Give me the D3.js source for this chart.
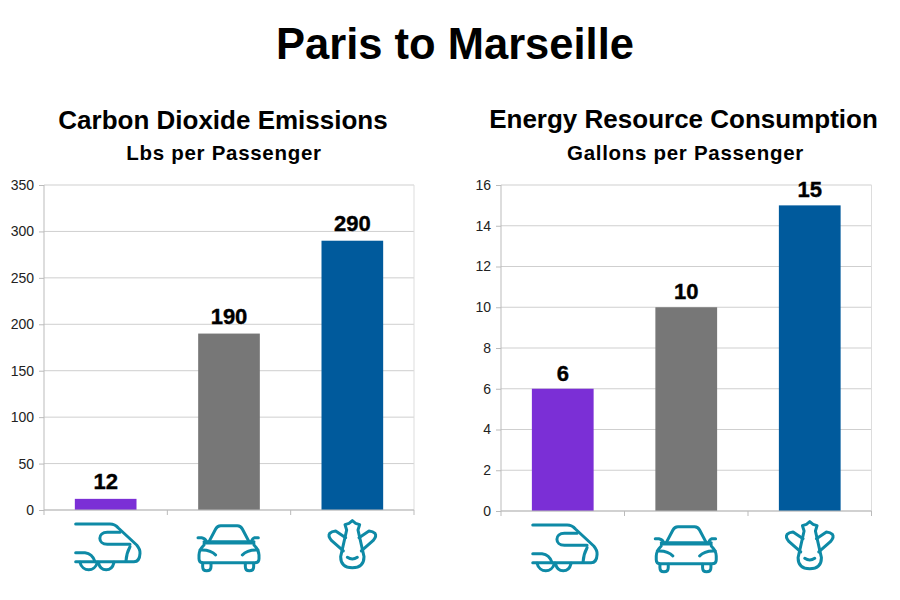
<!DOCTYPE html>
<html>
<head>
<meta charset="utf-8">
<script src="https://d3js.org/d3.v7.min.js"></script>
<style>
	html, body { margin: 0; background: #fff; }
	text { font-family: "Liberation Sans", Arial, sans-serif; fill: #000; }
	.tick text { font-size: 14px; fill: #222; }
</style>
</head>
<body>
<svg id="chart" width="900" height="600"></svg>
<script>
var modes = ['train', 'car', 'plane'];
var barColors = ['#7b2fd6', '#777777', '#005a9c'];

var co2Values = [12, 190, 290];
var co2Ticks = [0, 50, 100, 150, 200, 250, 300, 350];

var energyValues = [6, 10, 15];
var energyTicks = [0, 2, 4, 6, 8, 10, 12, 14, 16];

// icon outlines, drawn around the middle of each band
var icons = {
	train: [
		'M-90,72 H13 Q28,72 38,84 L93,135 Q104,148 103,160 Q102,185 85,185 H-90',
		'M73,133 H5 C-25,133 -25,97 5,97 H43',
		'M73,140 Q62,160 61,183',
		'M-90,158 H-62 Q-40,160 -32,185',
		'M-77,187 C-70,217 -32,217 -25,187',
		'M-22,187 C-15,217 18,217 25,187'
	],
	car: [
		'M-60,125 L-40,87 Q-35,77 -25,77 H25 Q35,77 40,87 L60,125',
		'M-75,125 H75 M-75,129 H75',
		'M-93,113 H-82 Q-70,115 -68,125',
		'M88,113 H77 Q70,115 67,125',
		'M-75,135 Q-90,150 -90,165 V176 Q-90,188 -77,188 H77 Q90,188 90,176 V165 Q90,150 75,135',
		'M-87,150 Q-55,148 -40,165',
		'M87,150 Q55,148 40,165',
		'M-79,190 V200 Q-79,212 -67,212 Q-54,212 -54,200 V190',
		'M49,190 V200 Q49,212 61,212 Q74,212 74,200 V190'
	],
	plane: [
		'M0,62 L10,70 L22,74 L17,90 L35,170 Q35,203 0,203 Q-35,203 -35,170 L-17,90 L-22,74 L-10,70 Z',
		'M-27,153 L-62,122 Q-74,108 -68,100 Q-62,94 -50,93 L-20,113',
		'M27,153 L62,122 Q74,108 68,100 Q62,94 50,93 L20,113',
		'M-15,172 Q0,182 15,172'
	]
};

var svg = d3.select('#chart');

svg.append('text')
	.attr('x', 455)
	.attr('y', 59)
	.attr('text-anchor', 'middle')
	.style('font-size', '43.5px')
	.style('font-weight', 'bold')
	.text('Paris to Marseille');

function drawPanel(opts) {
	var x = d3.scaleBand().domain(modes).range([opts.left, opts.right])
		.paddingInner(0.5).paddingOuter(0.25);
	var y = d3.scaleLinear().domain([0, opts.max]).range([opts.bottom, opts.top]);

	svg.append('text')
		.attr('x', opts.titleX)
		.attr('y', opts.titleY)
		.attr('text-anchor', 'middle')
		.style('font-size', '26px')
		.style('font-weight', 'bold')
		.text(opts.title);

	svg.append('text')
		.attr('x', opts.subX)
		.attr('y', opts.subY)
		.attr('text-anchor', 'middle')
		.style('font-size', '20.5px')
		.style('letter-spacing', '0.7px')
		.style('font-weight', 'bold')
		.text(opts.subtitle);

	// gridlines and left axis
	var yAxis = svg.append('g')
		.attr('transform', 'translate(' + opts.left + ',0)')
		.call(d3.axisLeft(y).tickValues(opts.ticks).tickSize(5).tickPadding(5));
	yAxis.selectAll('line').attr('stroke', '#bbb');
	yAxis.select('.domain').remove();

	svg.append('g').selectAll('line')
		.data(opts.ticks)
		.enter().append('line')
		.attr('x1', opts.left)
		.attr('x2', opts.right)
		.attr('y1', function(d) { return y(d); })
		.attr('y2', function(d) { return y(d); })
		.attr('stroke', '#cfcfcf');

	// frame on the sides, separators under the axis
	[opts.left, opts.right].forEach(function(px) {
		svg.append('line')
			.attr('x1', px).attr('x2', px)
			.attr('y1', opts.top).attr('y2', opts.bottom)
			.attr('stroke', px === opts.left ? '#bbb' : '#ddd');
	});

	d3.range(4).forEach(function(i) {
		var px = opts.left + x.step() * i;
		svg.append('line')
			.attr('x1', px).attr('x2', px)
			.attr('y1', opts.bottom).attr('y2', opts.bottom + 5)
			.attr('stroke', '#bbb');
	});

	svg.append('g').selectAll('rect')
		.data(opts.values)
		.enter().append('rect')
		.attr('x', function(d, i) { return x(modes[i]); })
		.attr('y', function(d) { return y(d); })
		.attr('width', x.bandwidth())
		.attr('height', function(d) { return y(0) - y(d); })
		.attr('fill', function(d, i) { return barColors[i]; });

	svg.append('line')
		.attr('x1', opts.left).attr('x2', opts.right)
		.attr('y1', opts.bottom).attr('y2', opts.bottom)
		.attr('stroke', '#bbb');

	svg.append('g').selectAll('text')
		.data(opts.values)
		.enter().append('text')
		.attr('x', function(d, i) { return x(modes[i]) + x.bandwidth() / 2; })
		.attr('y', function(d) { return y(d) - opts.labelGap; })
		.attr('text-anchor', 'middle')
		.attr('stroke', '#000')
		.attr('stroke-width', 0.4)
		.style('font-size', '22px')
		.style('font-weight', 'bold')
		.text(function(d) { return d; });

	modes.forEach(function(mode) {
		var g = svg.append('g')
			.attr('transform', 'translate(' + (x(mode) + x.bandwidth() / 2) + ',' + (opts.bottom - 10) + ') scale(0.3333)');
		g.selectAll('path')
			.data(icons[mode])
			.enter().append('path')
			.attr('d', function(d) { return d; })
			.attr('fill', 'none')
			.attr('stroke', '#0e8aa6')
			.attr('stroke-width', 9)
			.attr('stroke-linecap', 'round')
			.attr('stroke-linejoin', 'round');
	});
}

drawPanel({
	title: 'Carbon Dioxide Emissions',
	subtitle: 'Lbs per Passenger',
	values: co2Values,
	ticks: co2Ticks,
	max: 350,
	left: 44, right: 414, top: 185, bottom: 510,
	titleX: 223, titleY: 129,
	subX: 224, subY: 160,
	labelGap: 10
});

drawPanel({
	title: 'Energy Resource Consumption',
	subtitle: 'Gallons per Passenger',
	values: energyValues,
	ticks: energyTicks,
	max: 16,
	left: 501, right: 871.5, top: 185, bottom: 511,
	titleX: 683.5, titleY: 128,
	subX: 685.5, subY: 160,
	labelGap: 8
});
</script>
</body>
</html>
